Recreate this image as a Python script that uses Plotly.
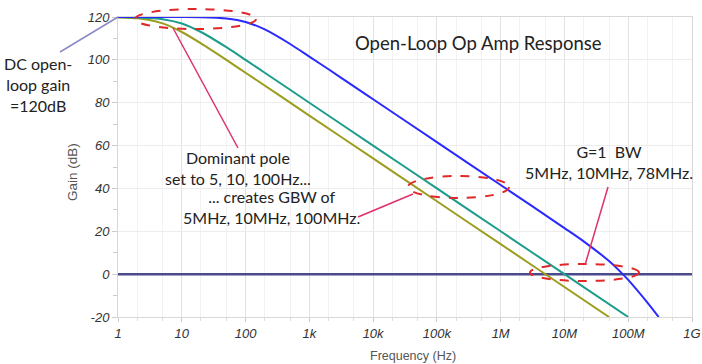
import plotly.graph_objects as go

# ---- data ----
freq_5hz = [1, 2, 3, 5, 10, 20, 50, 100, 1e3, 1e4, 1e5, 1e6, 1e7, 5e7]
gain_5hz = [119.8, 119.4, 118.7, 117.0, 113.0, 107.7, 100.0, 94.0, 74.0, 54.0, 34.0, 14.0, -6.0, -20.0]

freq_10hz = [1, 2, 5, 10, 20, 50, 100, 200, 1e3, 1e4, 1e5, 1e6, 1e7, 1e8]
gain_10hz = [120.0, 119.8, 119.0, 117.0, 113.0, 105.9, 100.0, 94.0, 80.0, 60.0, 40.0, 20.0, 0.0, -20.0]

freq_100hz = [1, 10, 20, 50, 100, 200, 500, 1e3, 2e3, 5e3, 1e4, 1e5, 1e6, 1e7, 2e7, 5e7, 8.2e7, 1e8, 2e8, 3e8]
gain_100hz = [120.0, 120.0, 119.9, 119.3, 117.7, 114.2, 107.4, 101.5, 95.6, 87.6, 81.6, 61.6, 41.6, 21.5, 15.3, 6.1, 0.0, -2.7, -13.3, -20.0]

freq_ref = [1, 1e9]
gain_ref = [0, 0]

x_tickvals = [1, 10, 100, 1e3, 1e4, 1e5, 1e6, 1e7, 1e8, 1e9]
x_ticktext = ["1", "10", "100", "1k", "10k", "100k", "1M", "10M", "100M", "1G"]
y_tickvals = [-20, 0, 20, 40, 60, 80, 100, 120]
y_ticktext = ["-20", "0", "20", "40", "60", "80", "100", "120"]

# ---- layout helpers (pixel -> paper) ----
W, H = 702, 364
L, R, T, B = 118, 692, 17, 317


def px(x):
    return (x - L) / (R - L)


def py(y):
    return (B - y) / (B - T)


fig = go.Figure()
fig.add_trace(go.Scatter(x=freq_ref, y=gain_ref, mode="lines",
                         line=dict(color="#4a4a8c", width=2.5), showlegend=False))
fig.add_trace(go.Scatter(x=freq_5hz, y=gain_5hz, mode="lines",
                         line=dict(color="#9c9c1e", width=2, shape="spline", smoothing=0.8), showlegend=False))
fig.add_trace(go.Scatter(x=freq_10hz, y=gain_10hz, mode="lines",
                         line=dict(color="#1c9c8a", width=2, shape="spline", smoothing=0.8), showlegend=False))
fig.add_trace(go.Scatter(x=freq_100hz, y=gain_100hz, mode="lines",
                         line=dict(color="#2a2aff", width=2, shape="spline", smoothing=0.8), showlegend=False))

red = "#e02828"
pink = "#e0306a"
shapes = []
for (x0, y0, x1, y1) in [(135, 9, 256, 29), (408, 176, 509, 198), (530, 264, 639, 281)]:
    shapes.append(dict(type="circle", xref="paper", yref="paper",
                       x0=px(x0), x1=px(x1), y0=py(y1), y1=py(y0),
                       line=dict(color=red, width=2, dash="dash")))
for (x0, y0, x1, y1, c) in [(60, 52, 118, 17, "#8a8ac8"),
                            (173, 28, 238, 148, pink),
                            (358, 217, 413, 194, pink),
                            (585, 265, 608, 187, pink)]:
    shapes.append(dict(type="line", xref="paper", yref="paper",
                       x0=px(x0), x1=px(x1), y0=py(y0), y1=py(y1),
                       line=dict(color=c, width=1.5)))

annots = []


def add_text(text, x, y, size=16, color="#222222", align="center", family="Lato, sans-serif", **kw):
    annots.append(dict(text=text, xref="paper", yref="paper", x=px(x), y=py(y),
                       xanchor="center", yanchor="middle", showarrow=False, align=align,
                       font=dict(family=family, size=size, color=color), **kw))


add_text("Open-Loop Op Amp Response", 478, 43, size=18.5)
add_text("DC open-<br>loop gain<br>=120dB", 38, 84, size=16)
add_text("Dominant pole<br>set to 5, 10, 100Hz...", 238, 168, size=16)
add_text("... creates GBW of<br>5MHz, 10MHz, 100MHz.", 271, 207, size=16)
add_text("G=1  BW<br>5MHz, 10MHz, 78MHz.", 609, 162, size=16)
add_text("Gain (dB)", 73, 172, size=13.5, color="#555555", family="Arial, sans-serif", textangle=-90)
add_text("Frequency (Hz)", 413, 356, size=12.5, color="#555555", family="Arial, sans-serif")

tickfont = dict(family="Arial, sans-serif", size=13, color="#333333", style="italic")

fig.update_layout(
    width=W, height=H,
    margin=dict(l=L, r=W - R, t=T, b=H - B, autoexpand=False),
    paper_bgcolor="white", plot_bgcolor="white",
    shapes=shapes, annotations=annots,
    xaxis=dict(type="log", range=[0, 9], tickvals=x_tickvals, ticktext=x_ticktext,
               tickfont=tickfont, showgrid=True, gridcolor="#e2e2e2", gridwidth=1,
               minor=dict(showgrid=True, gridcolor="#f2f2f2", ticks="outside", ticklen=3, tickcolor="#dddddd"),
               showline=True, linecolor="#d8d8d8", mirror=True, automargin=False,
               ticks="outside", ticklen=4, tickcolor="#cccccc", zeroline=False),
    yaxis=dict(range=[-20, 120], tickvals=y_tickvals, ticktext=y_ticktext, tickfont=tickfont,
               showgrid=True, gridcolor="#ececec", gridwidth=1,
               minor=dict(dtick=10, ticks="outside", ticklen=4, tickcolor="#cccccc", showgrid=False),
               showline=True, linecolor="#d8d8d8", mirror=True, automargin=False,
               ticks="outside", ticklen=5, tickcolor="#cccccc", zeroline=False),
)

fig.write_html("out.html", config={"displayModeBar": False},
               post_script="document.body.style.margin='0';document.body.style.overflow='hidden';")
